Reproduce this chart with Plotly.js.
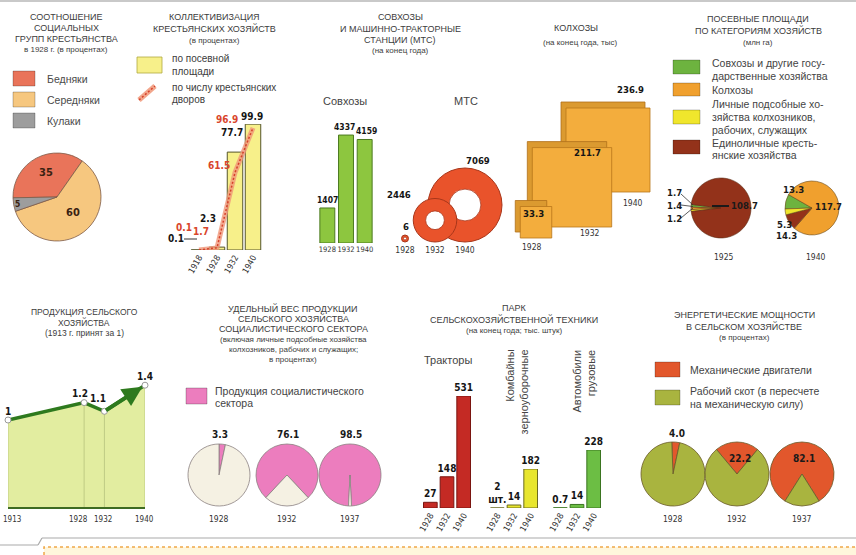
<!DOCTYPE html>
<html><head><meta charset="utf-8">
<script src="https://cdn.plot.ly/plotly-3.0.1.min.js"></script>
<style>html,body{margin:0;padding:0;background:#fff}#chart{width:856px;height:555px}</style>
</head><body><div id="chart"></div>
<script>
// ================= DATA =================
const socialLabels = ['Бедняки', 'Середняки', 'Кулаки'];
const socialValues = [35, 60, 5];

const collYears = ['1918', '1928', '1932', '1940'];
const collSownArea = [0.1, 2.3, 77.7, 99.9];      // по посевной площади
const collHouseholds = [0.1, 1.7, 61.5, 96.9];    // по числу крестьянских дворов

const sovkhozYears = ['1928', '1932', '1940'];
const sovkhozValues = [1407, 4337, 4159];
const mtsYears = ['1928', '1932', '1940'];
const mtsValues = [6, 2446, 7069];

const kolkhozYears = ['1928', '1932', '1940'];
const kolkhozValues = [33.3, 211.7, 236.9];

const sownCategories = ['Совхозы и другие государственные хозяйства', 'Колхозы',
  'Личные подсобные хозяйства колхозников, рабочих, служащих', 'Единоличные крестьянские хозяйства'];
const sownPieYears = ['1925', '1940'];
const sown1925 = [1.7, 1.4, 1.2, 108.7];
const sown1940 = [13.3, 117.7, 5.3, 14.3];

const prodYears = [1913, 1928, 1932, 1940];
const prodValues = [1, 1.2, 1.1, 1.4];

const shareYears = ['1928', '1932', '1937'];
const shareSocialist = [3.3, 76.1, 98.5];

const machYears = ['1928', '1932', '1940'];
const tractors = [27, 148, 531];
const combines = [0.002, 14, 182];
const combineLabels = ['2<br>шт.', '14', '182'];
const trucks = [0.7, 14, 228];

const energyYears = ['1928', '1932', '1937'];
const energyMech = [4.0, 22.2, 82.1];
const energyLabels = ['Механические двигатели', 'Рабочий скот (в пересчете на механическую силу)'];

// ================= HELPERS =================
const W = 856, H = 555;
const fx = x => x / W, fy = y => 1 - y / H;
const dX = (a, b) => [fx(a), fx(b)];
const dY = (top, bot) => [fy(bot), fy(top)];
const NARROW = "'Liberation Sans Narrow','DejaVu Sans Condensed','Arial Narrow',sans-serif";
const SANS = "'Liberation Sans Narrow','Liberation Sans','DejaVu Sans Condensed',sans-serif";
const TITLE = '#3c3c3c';
const ann = [], shapes = [], traces = [];

function txt(text, x, y, o = {}) {
  ann.push({text, x: fx(x), y: fy(y), xref: 'paper', yref: 'paper', showarrow: false,
    xanchor: o.xa || 'center', yanchor: o.ya || 'middle', align: o.align || 'center',
    textangle: o.angle || 0,
    font: {family: o.family || SANS, size: o.size || 9, color: o.color || TITLE, weight: o.bold ? 'bold' : 'normal'}});
}
function lines(arr, x, y0, dy, o) { arr.forEach((t, i) => txt(t, x, y0 + i * dy, o)); }
function dlab(xref, yref, x, y, text, xs, ys, o = {}) {
  ann.push({xref, yref, x, y, text, showarrow: false, xshift: xs, yshift: ys,
    xanchor: o.xa || 'center', yanchor: 'middle',
    font: {family: o.family || NARROW, size: o.size || 10, color: o.color || '#151515', weight: o.w || 'bold'}});
}
function rect(x0, y0, x1, y1, fill, line) {
  shapes.push({type: 'rect', xref: 'paper', yref: 'paper', x0: fx(x0), x1: fx(x1), y0: fy(y1), y1: fy(y0),
    fillcolor: fill, line: {color: line || 'rgba(0,0,0,0.3)', width: 0.8}});
}
function seg(x0, y0, x1, y1, color, width, dash) {
  shapes.push({type: 'line', xref: 'paper', yref: 'paper', x0: fx(x0), x1: fx(x1), y0: fy(y0), y1: fy(y1),
    line: {color, width, dash: dash || 'solid'}});
}
function pieDom(cx, cy, r) { return {x: [fx(cx - r), fx(cx + r)], y: [fy(cy + r), fy(cy - r)]}; }

// ================= PANEL 1: social groups =================
lines(['СООТНОШЕНИЕ', 'СОЦИАЛЬНЫХ', 'ГРУПП КРЕСТЬЯНСТВА'], 66, 17, 11, {size: 9});
txt('в 1928 г. (в процентах)', 66, 50, {size: 8});
const SOCIAL_COLORS = ['#E9745A', '#F6C77F', '#9D9D9D'];
const socialLegendY = [79, 100, 121];
socialLabels.forEach((l, i) => {
  rect(13, socialLegendY[i] - 8, 35, socialLegendY[i] + 7, SOCIAL_COLORS[i]);
  txt(l, 45, socialLegendY[i], {xa: 'left', size: 10.5, color: '#4a4a4a'});
});
traces.push({type: 'pie', labels: socialLabels, values: socialValues, sort: false, direction: 'clockwise',
  rotation: 269, domain: pieDom(57, 197, 44), textinfo: 'none', showlegend: false,
  marker: {colors: SOCIAL_COLORS, line: {color: '#7d5a48', width: 0.8}}});
const socialLabelPos = [[46, 173, 11], [73, 212, 11], [17, 204, 8.5]];
socialValues.forEach((v, i) => txt(String(v), socialLabelPos[i][0], socialLabelPos[i][1],
  {bold: true, size: socialLabelPos[i][2], color: '#3a2212', family: NARROW}));

// ================= PANEL 2: collectivization =================
lines(['КОЛЛЕКТИВИЗАЦИЯ', 'КРЕСТЬЯНСКИХ ХОЗЯЙСТВ'], 214, 17, 11, {size: 9});
txt('(в процентах)', 214, 40, {size: 8});
rect(137, 57, 162, 73, '#F7F08A', '#b0a840');
txt('по посевной', 170, 58, {xa: 'left', size: 10});
txt('площади', 170, 71, {xa: 'left', size: 10});
seg(139, 100, 155, 86, 'rgba(240,150,120,0.85)', 5);
seg(139, 100, 155, 86, '#D6402A', 1.5, '2px,2px');
txt('по числу крестьянских', 170, 88, {xa: 'left', size: 10});
txt('дворов', 170, 100, {xa: 'left', size: 10});

traces.push({type: 'bar', x: collYears, y: collSownArea, xaxis: 'x', yaxis: 'y', width: 0.86,
  marker: {color: '#F7F08A', line: {color: '#55552a', width: 1}}, showlegend: false});
traces.push({type: 'scatter', mode: 'lines', x: collYears, y: collHouseholds, xaxis: 'x', yaxis: 'y',
  line: {color: 'rgba(240,150,120,0.8)', width: 5}, cliponaxis: false, showlegend: false});
traces.push({type: 'scatter', mode: 'lines', x: collYears, y: collHouseholds, xaxis: 'x', yaxis: 'y',
  line: {color: '#D6402A', width: 1.5, dash: '2px,2px'}, cliponaxis: false, showlegend: false});
const collBarShift = [[-23, 11], [-9, 29], [-3, 20], [-1, 8]];
const collLineShift = [[-15, 22], [-16, 16], [-16, 7], [-26, 8]];
collSownArea.forEach((v, i) => dlab('x', 'y', i, v, String(v), collBarShift[i][0], collBarShift[i][1], {size: 10}));
collHouseholds.forEach((v, i) => dlab('x', 'y', i, v, String(v), collLineShift[i][0], collLineShift[i][1], {size: 10, color: '#D9452C'}));
seg(184, 239, 197, 239, '#333', 1);

// ================= PANEL 3: sovkhozes & MTS =================
lines(['СОВХОЗЫ', 'И МАШИННО-ТРАКТОРНЫЕ', 'СТАНЦИИ (МТС)'], 400, 17, 11.5, {size: 9});
txt('(на конец года)', 400, 51, {size: 8});
txt('Совхозы', 345, 101, {size: 11, color: '#444'});
txt('МТС', 466, 101, {size: 11, color: '#444'});
traces.push({type: 'bar', x: sovkhozYears, y: sovkhozValues, xaxis: 'x2', yaxis: 'y2', width: 0.8,
  marker: {color: '#8DC63F', line: {color: '#4C7A20', width: 1}}, showlegend: false});
const sovLabShift = [[0, 8], [-1.5, 8], [2, 8]];
sovkhozValues.forEach((v, i) => dlab('x2', 'y2', i, v, String(v), sovLabShift[i][0], sovLabShift[i][1], {size: 8.5}));

const mtsK = 37 / Math.sqrt(Math.max(...mtsValues));
const mtsR = mtsValues.map(v => Math.max(Math.sqrt(v) * mtsK, 3.5));
[2, 1, 0].forEach(i => {
  traces.push({type: 'scatter', mode: 'markers', x: [i], y: [mtsR[i] + 1], xaxis: 'x3', yaxis: 'y3', cliponaxis: false,
    marker: {symbol: 'circle', size: 2 * mtsR[i], color: '#E9532B', line: {color: '#A8361A', width: 1}}, showlegend: false});
  traces.push({type: 'scatter', mode: 'markers', x: [i], y: [mtsR[i] + 1], xaxis: 'x3', yaxis: 'y3', cliponaxis: false,
    marker: {symbol: 'circle', size: 0.86 * mtsR[i], color: '#ffffff', line: {color: '#A8361A', width: 0.8}}, showlegend: false});
});
const mtsLabShift = [[1, 9], [-36, 4], [13, 8]];
mtsValues.forEach((v, i) => dlab('x3', 'y3', i, 2 * mtsR[i] + 1, String(v), mtsLabShift[i][0], mtsLabShift[i][1], {size: 9.5}));

// ================= PANEL 4: kolkhozes =================
txt('КОЛХОЗЫ', 576, 28, {size: 9});
txt('(на конец года, тыс)', 580, 42, {size: 8});
const kolK = 84 / Math.sqrt(Math.max(...kolkhozValues));
const kolSide = kolkhozValues.map(v => Math.sqrt(v) * kolK);
const kolBase = [12, 23, 58];             // layout: bottom offsets of the boxes (px)
const kolPxPerUnit = 36;
const kolY = kolSide.map((s, i) => kolBase[i] + s / 2);
[2, 1, 0].forEach(i => {
  traces.push({type: 'scatter', mode: 'markers', x: [i - 5 / kolPxPerUnit], y: [kolY[i] + 6], xaxis: 'x4', yaxis: 'y4', cliponaxis: false,
    marker: {symbol: 'square', size: kolSide[i], color: '#DB9A30', line: {color: '#B0701A', width: 0.8}}, showlegend: false});
  traces.push({type: 'scatter', mode: 'markers', x: [i], y: [kolY[i]], xaxis: 'x4', yaxis: 'y4', cliponaxis: false,
    marker: {symbol: 'square', size: kolSide[i], color: '#F3AD3D', line: {color: '#B8761A', width: 0.8}}, showlegend: false});
});
const kolValShift = [[-3, 9], [15, 35], [22, 61]];
const kolYearShift = [[-4, -25], [18, -46], [25, -53]];
kolkhozValues.forEach((v, i) => {
  dlab('x4', 'y4', i, kolY[i], String(v), kolValShift[i][0], kolValShift[i][1], {size: 9.5});
  dlab('x4', 'y4', i, kolY[i], kolkhozYears[i], kolYearShift[i][0], kolYearShift[i][1], {size: 8.5, w: 'normal', color: '#333'});
});

// ================= PANEL 5: sown areas =================
lines(['ПОСЕВНЫЕ ПЛОЩАДИ', 'ПО КАТЕГОРИЯМ ХОЗЯЙСТВ'], 758, 19, 11, {size: 9});
txt('(млн га)', 758, 42, {size: 8});
const SOWN_COLORS = ['#6DB33F', '#F0A02E', '#F0E62C', '#93321A'];
rect(673, 60, 700, 74, SOWN_COLORS[0]);
rect(673, 83, 700, 96, SOWN_COLORS[1]);
rect(673, 110, 700, 124, SOWN_COLORS[2]);
rect(673, 140, 700, 154, SOWN_COLORS[3]);
const sownLegendLines = ['Совхозы и другие госу-', 'дарственные хозяйства', 'Колхозы', 'Личные подсобные хо-',
  'зяйства колхозников,', 'рабочих, служащих', 'Единоличные кресть-', 'янские хозяйства'];
const sownLegendY = [63, 76, 90, 104, 117, 130, 143, 155];
sownLegendLines.forEach((t, i) => txt(t, 710, sownLegendY[i], {xa: 'left', size: 10.5, color: '#444'}));

const deg1925 = sown1925.map(v => v * 360 / sown1925.reduce((a, b) => a + b, 0));
const rot1925 = 270 + (deg1925[1] + deg1925[2] - deg1925[0]) / 2;
traces.push({type: 'pie', labels: sownCategories, values: sown1925, sort: false, direction: 'counterclockwise',
  rotation: rot1925 - 360, domain: pieDom(721, 208, 30), textinfo: 'none', showlegend: false,
  marker: {colors: SOWN_COLORS, line: {color: '#5a2a12', width: 0.6}}});
const order1940 = [0, 1, 3, 2];
traces.push({type: 'pie', labels: order1940.map(i => sownCategories[i]), values: order1940.map(i => sown1940[i]),
  sort: false, direction: 'clockwise', rotation: -92, domain: pieDom(812, 208, 27), textinfo: 'none', showlegend: false,
  marker: {colors: order1940.map(i => SOWN_COLORS[i]), line: {color: '#6a4a1a', width: 0.6}}});
const lab1925 = [[674, 192], [674, 205], [674, 219], [744, 205]];
sown1925.forEach((v, i) => txt(String(v), lab1925[i][0], lab1925[i][1], {bold: true, size: 9.5, color: '#1a1a1a', family: NARROW}));
seg(681, 194, 693, 205, '#333', 0.8); seg(681, 205, 693, 206.5, '#333', 0.8); seg(681, 218, 693, 208, '#333', 0.8);
seg(712, 206, 729, 206, '#1a1a1a', 2);
const lab1940 = [[793, 189], [828, 207], [784, 224], [786, 235]];
sown1940.forEach((v, i) => txt(String(v), lab1940[i][0], lab1940[i][1], {bold: true, size: 9.5, color: '#1a1a1a', family: NARROW}));
txt(sownPieYears[0], 724, 257, {size: 8.5, color: '#333', family: NARROW});
txt(sownPieYears[1], 816, 257, {size: 8.5, color: '#333', family: NARROW});

// ================= PANEL 6: production =================
lines(['ПРОДУКЦИЯ СЕЛЬСКОГО', 'ХОЗЯЙСТВА', '(1913 г. принят за 1)'], 84, 312, 10.5, {size: 8.5});
traces.push({type: 'scatter', mode: 'lines', x: prodYears, y: prodValues, xaxis: 'x5', yaxis: 'y5', fill: 'tozeroy',
  fillcolor: '#E2EDA0', line: {width: 0, color: '#E2EDA0'}, showlegend: false});
prodYears.forEach((yr, i) => traces.push({type: 'scatter', mode: 'lines', x: [yr, yr], y: [0, prodValues[i]],
  xaxis: 'x5', yaxis: 'y5', line: {color: '#BFCB84', width: 1}, showlegend: false}));
traces.push({type: 'scatter', mode: 'lines', x: prodYears, y: prodValues, xaxis: 'x5', yaxis: 'y5',
  line: {color: '#2E7A1E', width: 3.5}, cliponaxis: false, showlegend: false});
ann.push({xref: 'x5', yref: 'y5', axref: 'x5', ayref: 'y5', x: prodYears[3], y: prodValues[3], ax: prodYears[2], ay: prodValues[2],
  showarrow: true, arrowhead: 2, arrowsize: 1, arrowwidth: 4, arrowcolor: '#2E7A1E', standoff: 3, text: ''});
traces.push({type: 'scatter', mode: 'markers', x: prodYears, y: prodValues, xaxis: 'x5', yaxis: 'y5', cliponaxis: false,
  marker: {symbol: 'circle', size: 6, color: '#ffffff', line: {color: '#9a9a9a', width: 1}}, showlegend: false});
const prodShift = [[0, 9], [-4, 9], [-6, 13], [0, 9]];
prodValues.forEach((v, i) => dlab('x5', 'y5', prodYears[i], v, String(v), prodShift[i][0], prodShift[i][1], {size: 10}));
const prodTickShift = [4, -6, -1, -1];
prodYears.forEach((yr, i) => dlab('x5', 'y5', yr, 0, String(yr), prodTickShift[i], -12, {size: 8, w: 'normal', color: '#333'}));

// ================= PANEL 7: socialist sector share =================
lines(['УДЕЛЬНЫЙ ВЕС ПРОДУКЦИИ', 'СЕЛЬСКОГО ХОЗЯЙСТВА', 'СОЦИАЛИСТИЧЕСКОГО СЕКТОРА'], 293, 308, 10.5, {size: 9});
lines(['(включая личные подсобные хозяйства', 'колхозников, рабочих и служащих;', 'в процентах)'], 293, 339.5, 10, {size: 8});
rect(186, 388, 207, 404, '#EC7DBE');
txt('Продукция социалистического', 213, 391, {xa: 'left', size: 10.5, color: '#444'});
txt('сектора', 213, 403, {xa: 'left', size: 10.5, color: '#444'});
const sharePieX = [219, 287, 350];
shareSocialist.forEach((v, i) => {
  traces.push({type: 'pie', labels: ['Продукция социалистического сектора', 'Прочая продукция'], values: [v, 100 - v],
    sort: false, direction: 'clockwise', rotation: -v * 1.8 + (i === 0 ? 6 : 0), domain: pieDom(sharePieX[i], 475, 31),
    textinfo: 'none', showlegend: false,
    marker: {colors: ['#EC7DBE', '#F5F1E3'], line: {color: '#8a8080', width: 0.8}}});
  txt(String(v), sharePieX[i] + 1, 434, {bold: true, size: 10, color: '#1a1a1a', family: NARROW});
  txt(shareYears[i], sharePieX[i], 519, {size: 8.5, color: '#333', family: NARROW});
});

// ================= PANEL 8: machinery =================
txt('ПАРК', 514, 308, {size: 9});
txt('СЕЛЬСКОХОЗЯЙСТВЕННОЙ ТЕХНИКИ', 514, 319, {size: 9});
txt('(на конец года; тыс. штук)', 514, 330, {size: 8});
txt('Тракторы', 448, 360, {size: 11, color: '#444'});
txt('Комбайны<br>зерноуборочные', 516, 348, {ya: 'top', angle: -90, align: 'right', size: 11, color: '#444'});
txt('Автомобили<br>грузовые', 583, 348, {ya: 'top', angle: -90, align: 'right', size: 11, color: '#444'});
const barFont = {family: NARROW, size: 10, color: '#151515', weight: 'bold'};
traces.push({type: 'bar', x: machYears, y: tractors, xaxis: 'x6', yaxis: 'y6', width: 0.82,
  marker: {color: '#C42A24', line: {color: '#7A1510', width: 1}}, text: tractors.map(String), textposition: 'outside',
  constraintext: 'none', cliponaxis: false, textfont: barFont, showlegend: false});
traces.push({type: 'bar', x: machYears, y: combines, xaxis: 'x7', yaxis: 'y7', width: 0.82,
  marker: {color: '#E8E62E', line: {color: '#6a6a20', width: 1}}, text: combineLabels, textposition: 'outside',
  constraintext: 'none', cliponaxis: false, textfont: barFont, showlegend: false});
traces.push({type: 'bar', x: machYears, y: trucks, xaxis: 'x8', yaxis: 'y8', width: 0.82,
  marker: {color: '#6CBE44', line: {color: '#3A7420', width: 1}}, text: trucks.map(String), textposition: 'outside',
  constraintext: 'none', cliponaxis: false, textfont: barFont, showlegend: false});

// ================= PANEL 9: energy =================
lines(['ЭНЕРГЕТИЧЕСКИЕ МОЩНОСТИ', 'В СЕЛЬСКОМ ХОЗЯЙСТВЕ'], 744, 315, 11, {size: 9});
txt('(в процентах)', 744, 337, {size: 8});
const ENERGY_COLORS = ['#E2572C', '#A9B43F'];
rect(655, 362, 680, 377, ENERGY_COLORS[0]);
rect(655, 390, 680, 405, ENERGY_COLORS[1]);
txt('Механические двигатели', 688, 370, {xa: 'left', size: 10.5, color: '#444'});
txt('Рабочий скот (в пересчете', 688, 391, {xa: 'left', size: 10.5, color: '#444'});
txt('на механическую силу)', 688, 404, {xa: 'left', size: 10.5, color: '#444'});
const energyPieX = [673, 737, 802];
const energyLabPos = [[677, 433], [740, 458], [804, 458]];
energyMech.forEach((v, i) => {
  traces.push({type: 'pie', labels: energyLabels, values: [v, 100 - v], sort: false, direction: 'clockwise',
    rotation: -v * 1.8 + (i === 0 ? 5 : 0), domain: pieDom(energyPieX[i], 474, 32), textinfo: 'none', showlegend: false,
    marker: {colors: ENERGY_COLORS, line: {color: '#6a5a2a', width: 0.8}}});
  txt(v.toFixed(1), energyLabPos[i][0], energyLabPos[i][1], {bold: true, size: 10, color: '#1a1a1a', family: NARROW});
  txt(energyYears[i], energyPieX[i], 519, {size: 8.5, color: '#333', family: NARROW});
});

// ================= DECOR =================
seg(0, 1, 856, 1, '#c9c9c9', 2);
seg(0, 545, 38, 545, '#a9a9a9', 1.2);
seg(38, 545, 42, 538, '#a9a9a9', 1.2);
seg(42, 538, 856, 538, '#a9a9a9', 1.2);
shapes.push({type: 'rect', xref: 'paper', yref: 'paper', x0: fx(44), x1: fx(860), y0: fy(560), y1: fy(547),
  fillcolor: '#FFF6DC', line: {color: '#F0A848', width: 1.5, dash: 'dot'}, layer: 'below'});

// ================= LAYOUT =================
const tickF = {family: NARROW, size: 8.5, color: '#333'};
function catX(domain, anchor, n, o = {}) {
  return Object.assign({domain, anchor, type: 'category', range: [-0.5, n - 0.5], autorange: false,
    showgrid: false, zeroline: false, showline: false, ticks: '', tickangle: 0, tickfont: tickF, fixedrange: true}, o);
}
function hidY(domain, anchor, range) {
  return {domain, anchor, range, autorange: false, visible: false, showgrid: false, zeroline: false, fixedrange: true};
}
const layout = {
  width: W, height: H, margin: {l: 0, r: 0, t: 0, b: 0}, paper_bgcolor: '#ffffff', plot_bgcolor: 'rgba(0,0,0,0)',
  showlegend: false, bargap: 0.1,
  xaxis: catX(dX(190, 262), 'y', 4, {tickangle: -60}),
  yaxis: hidY(dY(124, 250), 'x', [0, 100]),
  xaxis2: catX(dX(318, 374), 'y2', 3, {tickfont: {family: NARROW, size: 7.5, color: '#333'}}),
  yaxis2: hidY(dY(131, 243), 'x2', [0, 4500]),
  xaxis3: {domain: dX(390, 480), anchor: 'y3', range: [-0.5, 2.5], autorange: false, tickvals: [0, 1, 2], ticktext: mtsYears,
    tickangle: 0, showgrid: false, zeroline: false, showline: false, ticks: '', tickfont: tickF},
  yaxis3: hidY(dY(150, 243), 'x3', [0, 93]),
  xaxis4: {domain: dX(518, 626), anchor: 'y4', range: [-0.5, 2.5], autorange: false, visible: false},
  yaxis4: hidY(dY(80, 250), 'x4', [0, 170]),
  xaxis5: {domain: dX(8, 145), anchor: 'y5', range: [1913, 1940], autorange: false, showticklabels: false,
    showgrid: false, zeroline: false, showline: true, linecolor: '#3E6B22', linewidth: 2, ticks: ''},
  yaxis5: hidY(dY(370, 507), 'x5', [0, (507 - 370) / 87]),
  xaxis6: catX(dX(422, 472), 'y6', 3, {tickangle: -60}),
  yaxis6: hidY(dY(396, 508), 'x6', [0, 531]),
  xaxis7: catX(dX(489, 539), 'y7', 3, {tickangle: -60}),
  yaxis7: hidY(dY(469, 508), 'x7', [0, 182]),
  xaxis8: catX(dX(552, 602), 'y8', 3, {tickangle: -60}),
  yaxis8: hidY(dY(450, 508), 'x8', [0, 228]),
  annotations: ann, shapes: shapes
};
Plotly.newPlot('chart', traces, layout, {displayModeBar: false, staticPlot: true});
</script>
</body></html>
